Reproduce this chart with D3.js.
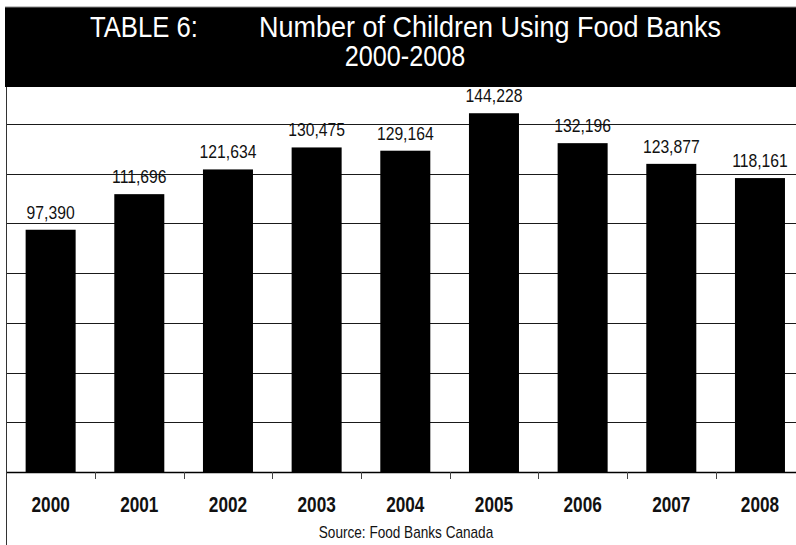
<!DOCTYPE html>
<html><head><meta charset="utf-8">
<script src="https://cdn.jsdelivr.net/npm/d3@7/dist/d3.min.js"></script>
<style>
html,body{margin:0;padding:0;background:#fff;}
svg{display:block;}
text{font-family:"Liberation Sans Narrow","Arial Narrow","Liberation Sans",Arial,sans-serif;}
</style></head>
<body>
<svg id="c" width="796" height="545"></svg>
<script>
const years = ["2000","2001","2002","2003","2004","2005","2006","2007","2008"];
const children = [97390,111696,121634,130475,129164,144228,132196,123877,118161];
const gridValues = [20000,40000,60000,80000,100000,120000,140000,160000];
const titleLabel = "TABLE 6:";
const titleMain = "Number of Children Using Food Banks";
const titleYears = "2000-2008";
const sourceText = "Source: Food Banks Canada";

const svg = d3.select("#c");
const W = 796, H = 545;
const x = d3.scaleBand().domain(years).range([6.3, 804.3]).paddingInner(0.436).paddingOuter(0.218);
const y = d3.scaleLinear().domain([0,160000]).range([472, 74]);
const fmt = d3.format(",");

// horizontally condensed text helper (no narrow font installed)
function ntext(parent, px, py, str, size, sx, anchor, opts={}) {
  const t = parent.append("text")
    .attr("transform", `translate(${px},${py}) scale(${sx},1)`)
    .attr("text-anchor", anchor).attr("font-size", size)
    .attr("fill", opts.fill || "#111")
    .text(str);
  if (opts.weight) t.attr("font-weight", opts.weight);
  return t;
}

// gridlines
svg.append("g").selectAll("line").data(gridValues).join("line")
  .attr("x1", 6).attr("x2", W).attr("y1", d=>Math.round(y(d))+0.5).attr("y2", d=>Math.round(y(d))+0.5)
  .attr("stroke", "#1a1a1a").attr("stroke-width", 1);

// bars
svg.append("g").selectAll("rect").data(years).join("rect")
  .attr("x", d=>x(d)).attr("width", x.bandwidth())
  .attr("y", (d,i)=>y(children[i])).attr("height", (d,i)=>y(0)-y(children[i]))
  .attr("fill", "#000");

// value labels
const vl = svg.append("g");
years.forEach((d,i)=>{
  ntext(vl, x(d)+x.bandwidth()/2, y(children[i])-11, fmt(children[i]), 18.5, 0.85, "middle");
});

// x axis
const xAxis = d3.axisBottom(x).tickSize(0).tickPadding(0);
const ax = svg.append("g").attr("transform", `translate(0,${y(0)})`).call(xAxis);
ax.select(".domain").remove();
ax.selectAll("text")
  .attr("dy", null).attr("y", null)
  .attr("transform", "translate(0,40) scale(0.8,1)")
  .attr("font-size", 21.5).attr("font-weight","bold").attr("fill","#111")
  .style("font-family",'"Liberation Sans Narrow","Arial Narrow","Liberation Sans",Arial,sans-serif');
// baseline
svg.append("line").attr("x1",6).attr("x2",W).attr("y1",Math.round(y(0))+0.5).attr("y2",Math.round(y(0))+0.5)
  .attr("stroke","#000").attr("stroke-width",1.3);
// boundary ticks
const step = x.step();
svg.append("g").selectAll("line").data(years.slice(0,-1)).join("line")
  .attr("x1", d=>Math.round(x(d)+x.bandwidth()+(step-x.bandwidth())/2)+0.5)
  .attr("x2", d=>Math.round(x(d)+x.bandwidth()+(step-x.bandwidth())/2)+0.5)
  .attr("y1", y(0)).attr("y2", y(0)+7)
  .attr("stroke","#444").attr("stroke-width",1);

// left border
svg.append("line").attr("x1",6.5).attr("x2",6.5).attr("y1",7).attr("y2",H)
  .attr("stroke","#333").attr("stroke-width",1);

// header
svg.append("rect").attr("x",5).attr("y",7).attr("width",W-5).attr("height",80).attr("fill","#000");
svg.append("line").attr("x1",5).attr("x2",W).attr("y1",7).attr("y2",7).attr("stroke","#888").attr("stroke-width",1);
const hg = svg.append("g");
ntext(hg, 90, 37, titleLabel, 29.5, 0.87, "start", {fill:"#fff"});
ntext(hg, 259, 37, titleMain, 29.5, 0.915, "start", {fill:"#fff"});
ntext(hg, 405, 65.5, titleYears, 29.5, 0.855, "middle", {fill:"#fff"});

// source
ntext(svg, 406, 538, sourceText, 16, 0.85, "middle");
</script>
</body></html>
